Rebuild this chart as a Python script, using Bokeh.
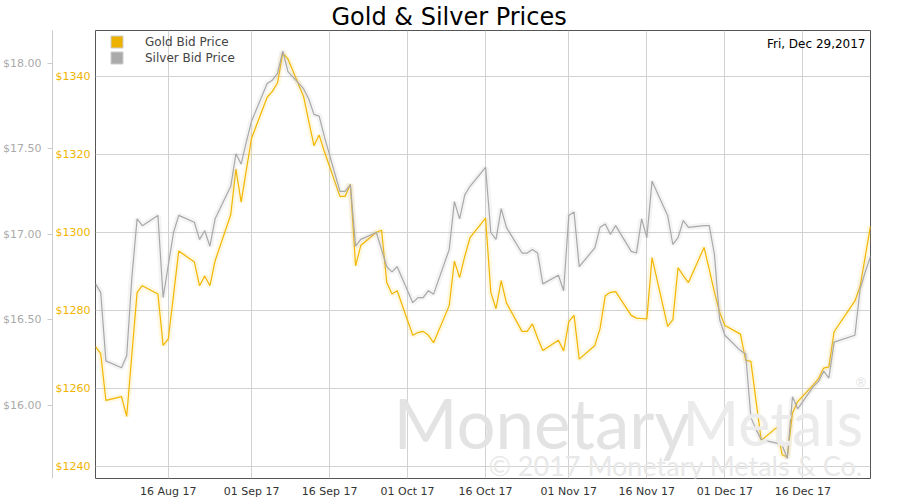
import pandas as pd
from bokeh.plotting import figure
from bokeh.models import (Range1d, LinearAxis, FixedTicker, NumeralTickFormatter,
                          DatetimeTickFormatter, Legend, LegendItem, Label, ColumnDataSource)
from bokeh.embed import file_html
from bokeh.resources import INLINE

# ---------------- data ----------------
dates = [
    "2017-08-02", "2017-08-03", "2017-08-04", "2017-08-07", "2017-08-08", "2017-08-09",
    "2017-08-10", "2017-08-11", "2017-08-14", "2017-08-15", "2017-08-16", "2017-08-17",
    "2017-08-18", "2017-08-21", "2017-08-22", "2017-08-23", "2017-08-24", "2017-08-25",
    "2017-08-28", "2017-08-29", "2017-08-30", "2017-08-31", "2017-09-01", "2017-09-04",
    "2017-09-05", "2017-09-06", "2017-09-07", "2017-09-08", "2017-09-11", "2017-09-12",
    "2017-09-13", "2017-09-14", "2017-09-15", "2017-09-18", "2017-09-19", "2017-09-20",
    "2017-09-21", "2017-09-22", "2017-09-25", "2017-09-26", "2017-09-27", "2017-09-28",
    "2017-09-29", "2017-10-02", "2017-10-03", "2017-10-04", "2017-10-05", "2017-10-06",
    "2017-10-09", "2017-10-10", "2017-10-11", "2017-10-12", "2017-10-13", "2017-10-16",
    "2017-10-17", "2017-10-18", "2017-10-19", "2017-10-20", "2017-10-23", "2017-10-24",
    "2017-10-25", "2017-10-26", "2017-10-27", "2017-10-30", "2017-10-31", "2017-11-01",
    "2017-11-02", "2017-11-03", "2017-11-06", "2017-11-07", "2017-11-08", "2017-11-09",
    "2017-11-10", "2017-11-13", "2017-11-14", "2017-11-15", "2017-11-16", "2017-11-17",
    "2017-11-20", "2017-11-21", "2017-11-22", "2017-11-23", "2017-11-24", "2017-11-27",
    "2017-11-28", "2017-11-29", "2017-11-30", "2017-12-01", "2017-12-04", "2017-12-05",
    "2017-12-06", "2017-12-07", "2017-12-08", "2017-12-11", "2017-12-12", "2017-12-13",
    "2017-12-14", "2017-12-15", "2017-12-18", "2017-12-19", "2017-12-20", "2017-12-21",
    "2017-12-22", "2017-12-26", "2017-12-27", "2017-12-28", "2017-12-29",
]
gold_bid = [
    1270.8, 1269.0, 1257.0, 1258.0, 1252.9, 1269.0,
    1284.7, 1286.4, 1284.3, 1271.1, 1272.8, 1284.0,
    1295.3, 1292.5, 1286.4, 1288.9, 1286.4, 1292.8,
    1304.6, 1316.3, 1307.8, 1316.0, 1324.2, 1334.7,
    1336.2, 1338.4, 1346.0, 1344.5, 1334.9, 1328.6,
    1322.3, 1325.0, 1320.8, 1309.3, 1309.3, 1312.4,
    1291.5, 1296.7, 1300.1, 1300.6, 1287.2, 1284.3,
    1285.1, 1273.7, 1274.4, 1274.7, 1273.7, 1271.8,
    1281.3, 1292.7, 1288.5, 1294.0, 1298.7, 1303.7,
    1284.7, 1280.5, 1287.7, 1282.0, 1274.7, 1274.7,
    1276.6, 1273.0, 1269.8, 1272.4, 1269.7, 1277.2,
    1278.8, 1267.6, 1271.1, 1275.4, 1283.8, 1284.7,
    1284.9, 1278.8, 1278.1, 1278.0, 1277.9, 1293.6,
    1276.0, 1277.7, 1291.0, 1289.0, 1287.2, 1296.2,
    1290.6, 1284.7, 1279.6, 1276.2, 1274.0, 1267.3,
    1267.0, 1256.8, 1246.8, 1250.1, 1243.1, 1242.5,
    1253.8, 1256.7, 1261.0, 1262.6, 1265.3, 1265.6,
    1274.6, 1282.5, 1286.2, 1294.0, 1301.7,
]
silver_bid = [
    16.71, 16.66, 16.26, 16.22, 16.29, 16.75,
    17.09, 17.05, 17.11, 16.63, 16.82, 17.01,
    17.11, 17.07, 16.97, 17.02, 16.93, 17.09,
    17.28, 17.47, 17.41, 17.54, 17.66, 17.88,
    17.90, 17.94, 18.07, 17.95, 17.85, 17.79,
    17.70, 17.69, 17.57, 17.25, 17.25, 17.29,
    16.93, 16.97, 17.01, 16.91, 16.81, 16.78,
    16.81, 16.60, 16.63, 16.63, 16.67, 16.65,
    16.91, 17.19, 17.09, 17.23, 17.28, 17.39,
    17.01, 16.97, 17.15, 17.04, 16.89, 16.89,
    16.91, 16.89, 16.71, 16.76, 16.67, 17.11,
    17.13, 16.81, 16.92, 17.04, 17.06, 17.00,
    17.05, 16.90, 16.89, 17.09, 16.98, 17.31,
    17.11, 16.94, 16.98, 17.08, 17.04, 17.05,
    17.05, 16.88, 16.50, 16.41, 16.32, 16.30,
    15.93, 15.86, 15.80, 15.78, 15.77, 15.69,
    16.05, 15.98, 16.11, 16.14, 16.20, 16.16,
    16.37, 16.41, 16.68, 16.78, 16.87,
]
series_names = ["Gold Bid Price", "Silver Bid Price"]
gold_ticks = [1240, 1260, 1280, 1300, 1320, 1340]
silver_ticks = [16.0, 16.5, 17.0, 17.5, 18.0]
x_tick_dates = ["2017-08-16", "2017-09-01", "2017-09-16", "2017-10-01", "2017-10-16",
                "2017-11-01", "2017-11-16", "2017-12-01", "2017-12-16"]
gold_range = (1237.0, 1351.8)
silver_range = (15.573, 18.19)
title_text = "Gold & Silver Prices"

# ---------------- styling ----------------
GOLD = "#F2B600"
GOLD_TXT = "#F0B400"
SILVER = "#A8A8A8"
FONT = "DejaVu Sans"

d = pd.to_datetime(dates)
src = ColumnDataSource(dict(date=d, gold=gold_bid, silver=silver_bid))

p = figure(width=900, height=500, x_axis_type="datetime",
           x_range=Range1d(d[0], d[-1]), y_range=Range1d(*gold_range),
           output_backend="svg", toolbar_location=None,
           min_border_left=0, min_border_right=30, min_border_top=30, min_border_bottom=19)
p.extra_y_ranges = {"silver": Range1d(*silver_range)}

p.title.text = title_text
p.title.align = "left"
p.title.offset = 236
p.title.standoff = 0
p.title.text_font = FONT
p.title.text_font_size = "24px"
p.title.text_font_style = "normal"
p.title.text_color = "#000000"

p.background_fill_color = "white"
p.border_fill_color = "white"
p.outline_line_color = "#555555"
p.outline_line_width = 1

# gold (primary) axis
ga = p.yaxis[0]
ga.ticker = FixedTicker(ticks=gold_ticks)
ga.formatter = NumeralTickFormatter(format="$0")
ga.axis_line_color = None
ga.major_tick_line_color = None
ga.major_tick_out = 0
ga.major_tick_in = 0
ga.minor_tick_line_color = None
ga.minor_tick_out = 0
ga.major_label_text_color = GOLD_TXT
ga.major_label_text_font = FONT
ga.major_label_text_font_size = "11px"
ga.major_label_standoff = 5

# silver axis
sa = LinearAxis(y_range_name="silver", ticker=FixedTicker(ticks=silver_ticks),
                formatter=NumeralTickFormatter(format="$0.00"))
sa.axis_line_color = "#cccccc"
sa.major_tick_line_color = "#cccccc"
sa.major_tick_out = 5
sa.major_tick_in = 0
sa.minor_tick_line_color = None
sa.minor_tick_out = 0
sa.major_label_text_color = "#aaaaaa"
sa.major_label_text_font = FONT
sa.major_label_text_font_size = "11px"
sa.major_label_standoff = 6
p.add_layout(sa, "left")

# x axis
xa = p.xaxis[0]
xa.ticker = FixedTicker(ticks=[pd.Timestamp(s).timestamp() * 1000 for s in x_tick_dates])
fmt = "%d %b %y"
xa.formatter = DatetimeTickFormatter(days=fmt, months=fmt, years=fmt, hours=fmt,
                                     hourmin=fmt, minutes=fmt, minsec=fmt, seconds=fmt,
                                     milliseconds=fmt, microseconds=fmt)
xa.axis_line_color = None
xa.major_tick_line_color = None
xa.major_tick_out = 0
xa.major_tick_in = 0
xa.minor_tick_line_color = None
xa.minor_tick_out = 0
xa.major_label_text_color = "#333333"
xa.major_label_text_font = FONT
xa.major_label_text_font_size = "11px"
xa.major_label_standoff = 6

p.xgrid.grid_line_color = "#d2d2d2"
p.ygrid.grid_line_color = "#d2d2d2"

# watermark (text)
wm = dict(x_units="screen", y_units="screen", text_font="Lato", text_baseline="alphabetic")
p.add_layout(Label(x=298, y=56, text="Monetary", text_font_size="69px",
                   text_color="#e3e3e3", **wm))
p.add_layout(Label(x=587, y=56, text="Metals", text_font_size="61px",
                   text_color="#ebebeb", **wm))
p.add_layout(Label(x=393, y=13, text="\u00a9 2017 Monetary Metals & Co.", text_font_size="27px",
                   text_color="#e8e8e8", **wm))
p.add_layout(Label(x=760, y=97, text="\u00ae", text_font_size="13px",
                   text_color="#e3e3e3", **wm))

# series (with soft glow like the original)
p.line("date", "gold", source=src, line_color="#f7d35a", line_width=6, line_alpha=0.18)
r_gold = p.line("date", "gold", source=src, line_color=GOLD, line_width=1.2)
p.line("date", "silver", source=src, y_range_name="silver", line_color="#b8b8b8",
       line_width=6, line_alpha=0.16)
r_silver = p.line("date", "silver", source=src, y_range_name="silver",
                  line_color=SILVER, line_width=1.2)

# legend swatches: hidden box renderers, used only for their legend glyphs
sw_g = p.quad(left="date", right="date", bottom="gold", top="gold", source=src,
              fill_color="#EDB200", line_color="#cccccc", visible=False)
sw_s = p.quad(left="date", right="date", bottom="gold", top="gold", source=src,
              fill_color="#AAAAAA", line_color="#cccccc", visible=False)
legend = Legend(items=[LegendItem(label=series_names[0], renderers=[sw_g]),
                       LegendItem(label=series_names[1], renderers=[sw_s])],
                location=(14, 413), glyph_width=15, glyph_height=15, label_height=15,
                spacing=1, label_standoff=21, padding=0, margin=0,
                border_line_color=None, background_fill_alpha=0,
                inactive_fill_alpha=0, click_policy="none",
                label_text_font=FONT, label_text_font_size="12px", label_text_color="#444444")
p.add_layout(legend)

# date stamp top-right
last_day = d[-1].strftime("%a, %b %d,%Y")
p.add_layout(Label(x=d[-1], y=gold_range[1], x_offset=-5, y_offset=-13, text=last_day,
                   text_align="right", text_baseline="middle", text_font=FONT,
                   text_font_size="12px", text_color="#000000"))

open("out.html", "w").write(file_html(p, INLINE))
